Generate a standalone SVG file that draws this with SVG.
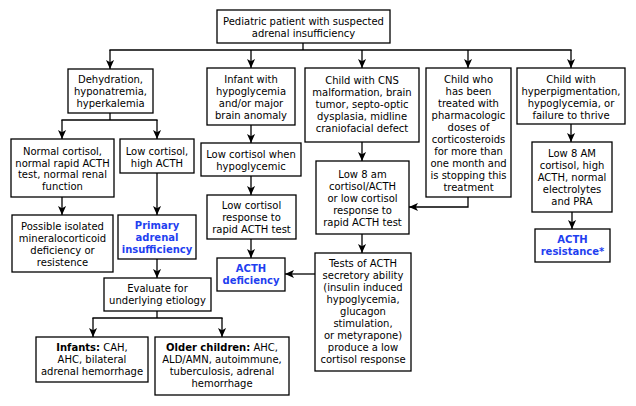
<svg xmlns="http://www.w3.org/2000/svg" width="636" height="406" viewBox="0 0 636 406">
<defs>
<style>
rect.n{fill:#fff;stroke:#000;stroke-width:1.3}
text{font-family:"DejaVu Sans","Verdana",sans-serif;font-size:10px;fill:#000;text-anchor:middle}
text.b{font-weight:bold;fill:#1f3ff0}
.c line,.c path{stroke:#000;stroke-width:1.3;fill:none}
.a{marker-end:url(#arr)}
</style>
<marker id="arr" markerUnits="userSpaceOnUse" markerWidth="9" markerHeight="9" viewBox="0 0 10 10" refX="10" refY="5" orient="auto">
<path d="M0,0.5 L10,5 L0,9.5 L2.5,5 z" fill="#000"/>
</marker>
</defs>
<rect width="636" height="406" fill="#fff"/>
<g class="c" id="connectors">
<line x1="303" y1="43" x2="303" y2="50"/>
<line x1="109.4" y1="50" x2="571.6" y2="50"/>
<line class="a" x1="110" y1="50" x2="110" y2="69"/>
<line class="a" x1="251" y1="50" x2="251" y2="68"/>
<line class="a" x1="362" y1="50" x2="362" y2="68"/>
<line class="a" x1="468" y1="50" x2="468" y2="68"/>
<line class="a" x1="571" y1="50" x2="571" y2="68"/>
<line x1="110" y1="113" x2="110" y2="120"/>
<line x1="61.4" y1="120" x2="157.6" y2="120"/>
<line class="a" x1="62" y1="120" x2="62" y2="139"/>
<line class="a" x1="157" y1="120" x2="157" y2="139"/>
<line class="a" x1="251" y1="125" x2="251" y2="143"/>
<line class="a" x1="251" y1="176" x2="251" y2="195"/>
<line class="a" x1="251" y1="239" x2="251" y2="258"/>
<line class="a" x1="362" y1="142" x2="362" y2="161"/>
<line class="a" x1="362" y1="234" x2="362" y2="253"/>
<path class="a" d="M468,197 V207 H409"/>
<line class="a" x1="315" y1="274" x2="285" y2="274"/>
<line class="a" x1="571" y1="124" x2="571" y2="142"/>
<line class="a" x1="572" y1="212" x2="572" y2="229"/>
<line class="a" x1="62" y1="197" x2="62" y2="215"/>
<line class="a" x1="157" y1="173" x2="157" y2="215"/>
<line class="a" x1="157" y1="259" x2="157" y2="278"/>
<line x1="157" y1="311" x2="157" y2="318"/>
<line x1="92.4" y1="318" x2="222.6" y2="318"/>
<line class="a" x1="93" y1="318" x2="93" y2="337"/>
<line class="a" x1="222" y1="318" x2="222" y2="337"/>
</g>
<g id="top">
<rect class="n" x="217" y="10" width="173" height="33"/>
<text x="303.5" y="24.5">Pediatric patient with suspected</text>
<text x="303.5" y="36.5">adrenal insufficiency</text>
</g>
<g id="dehydration">
<rect class="n" x="68" y="69" width="85" height="44"/>
<text x="110.5" y="83">Dehydration,</text>
<text x="110.5" y="95">hyponatremia,</text>
<text x="110.5" y="107">hyperkalemia</text>
</g>
<g id="infant">
<rect class="n" x="207" y="68" width="88" height="57"/>
<text x="251" y="82.5">Infant with</text>
<text x="251" y="94.5">hypoglycemia</text>
<text x="251" y="106.5">and/or major</text>
<text x="251" y="118.5">brain anomaly</text>
</g>
<g id="cns">
<rect class="n" x="305" y="68" width="114" height="74"/>
<text x="362" y="84">Child with CNS</text>
<text x="362" y="96">malformation, brain</text>
<text x="362" y="108">tumor, septo-optic</text>
<text x="362" y="120">dysplasia, midline</text>
<text x="362" y="132">craniofacial defect</text>
</g>
<g id="treated">
<rect class="n" x="426" y="68" width="85" height="129"/>
<text x="468.5" y="82.5">Child who</text>
<text x="468.5" y="94.5">has been</text>
<text x="468.5" y="106.5">treated with</text>
<text x="468.5" y="118.5">pharmacologic</text>
<text x="468.5" y="130.5">doses of</text>
<text x="468.5" y="142.5">corticosteroids</text>
<text x="468.5" y="154.5">for more than</text>
<text x="468.5" y="166.5">one month and</text>
<text x="468.5" y="178.5">is stopping this</text>
<text x="468.5" y="190.5">treatment</text>
</g>
<g id="hyper">
<rect class="n" x="517" y="68" width="108" height="56"/>
<text x="571" y="82.5">Child with</text>
<text x="571" y="94.5">hyperpigmentation,</text>
<text x="571" y="106.5">hypoglycemia, or</text>
<text x="571" y="118.5">failure to thrive</text>
</g>
<g id="normal">
<rect class="n" x="11" y="139" width="103" height="58"/>
<text x="62.5" y="154.5">Normal cortisol,</text>
<text x="62.5" y="166.5">normal rapid ACTH</text>
<text x="62.5" y="178">test, normal renal</text>
<text x="62.5" y="189.5">function</text>
</g>
<g id="lowhigh">
<rect class="n" x="120" y="139" width="74" height="34"/>
<text x="157" y="154.5">Low cortisol,</text>
<text x="157" y="166.5">high ACTH</text>
</g>
<g id="lowhypo">
<rect class="n" x="201" y="143" width="100" height="33"/>
<text x="251" y="157.5">Low cortisol when</text>
<text x="251" y="169.5">hypoglycemic</text>
</g>
<g id="lowresp">
<rect class="n" x="207" y="195" width="89" height="44"/>
<text x="251.5" y="209">Low cortisol</text>
<text x="251.5" y="221">response to</text>
<text x="251.5" y="233">rapid ACTH test</text>
</g>
<g id="acthdef">
<rect class="n" x="217" y="258" width="68" height="33"/>
<text class="b" x="251" y="272">ACTH</text>
<text class="b" x="251" y="284">deficiency</text>
</g>
<g id="low8am">
<rect class="n" x="316" y="161" width="93" height="73"/>
<text x="362.5" y="177.5">Low 8 am</text>
<text x="362.5" y="189.5">cortisol/ACTH</text>
<text x="362.5" y="201.5">or low cortisol</text>
<text x="362.5" y="213.5">response to</text>
<text x="362.5" y="225.5">rapid ACTH test</text>
</g>
<g id="tests">
<rect class="n" x="315" y="253" width="96" height="118"/>
<text x="363" y="267">Tests of ACTH</text>
<text x="363" y="279">secretory ability</text>
<text x="363" y="291">(insulin induced</text>
<text x="363" y="303">hypoglycemia,</text>
<text x="363" y="315">glucagon</text>
<text x="363" y="327">stimulation,</text>
<text x="363" y="339">or metyrapone)</text>
<text x="363" y="351">produce a low</text>
<text x="363" y="363">cortisol response</text>
</g>
<g id="low8AMhigh">
<rect class="n" x="532" y="142" width="80" height="70"/>
<text x="572" y="157">Low 8 AM</text>
<text x="572" y="169">cortisol, high</text>
<text x="572" y="181">ACTH, normal</text>
<text x="572" y="193">electrolytes</text>
<text x="572" y="205">and PRA</text>
</g>
<g id="resistance">
<rect class="n" x="535" y="229" width="75" height="33"/>
<text class="b" x="572.5" y="243">ACTH</text>
<text class="b" x="572.5" y="255">resistance*</text>
</g>
<g id="possible">
<rect class="n" x="12" y="215" width="101" height="57"/>
<text x="62.5" y="229.5">Possible isolated</text>
<text x="62.5" y="241.5">mineralocorticoid</text>
<text x="62.5" y="253.5">deficiency or</text>
<text x="62.5" y="265.5">resistence</text>
</g>
<g id="primary">
<rect class="n" x="118" y="215" width="78" height="44"/>
<text class="b" x="157" y="229">Primary</text>
<text class="b" x="157" y="241">adrenal</text>
<text class="b" x="157" y="253">insufficiency</text>
</g>
<g id="evaluate">
<rect class="n" x="104" y="278" width="107" height="33"/>
<text x="157.5" y="292">Evaluate for</text>
<text x="157.5" y="304">underlying etiology</text>
</g>
<g id="infants">
<rect class="n" x="36" y="337" width="112" height="45"/>
<text x="92" y="351"><tspan font-weight="bold">Infants:</tspan> CAH,</text>
<text x="92" y="363">AHC, bilateral</text>
<text x="92" y="375">adrenal hemorrhage</text>
</g>
<g id="older">
<rect class="n" x="155" y="337" width="134" height="58"/>
<text x="222" y="351"><tspan font-weight="bold">Older children:</tspan> AHC,</text>
<text x="222" y="363">ALD/AMN, autoimmune,</text>
<text x="222" y="375">tuberculosis, adrenal</text>
<text x="222" y="387">hemorrhage</text>
</g>
</svg>
